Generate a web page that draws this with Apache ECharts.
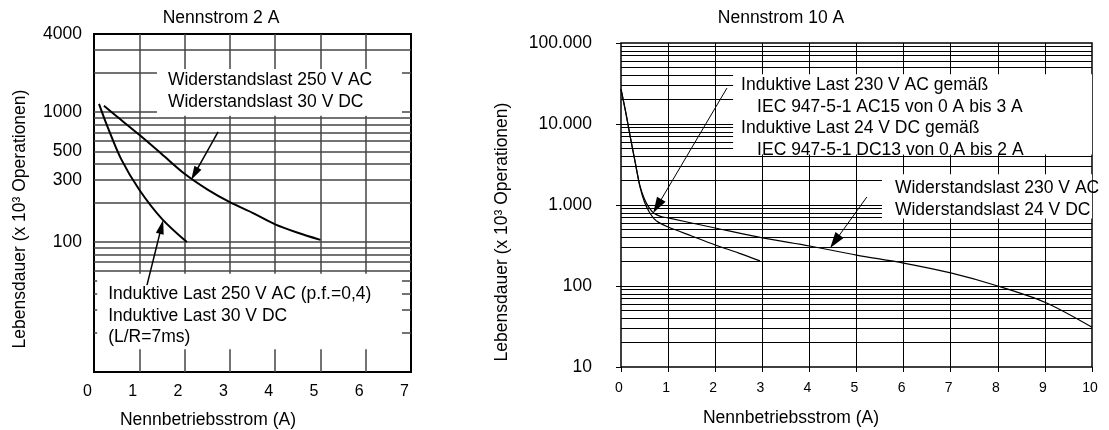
<!DOCTYPE html>
<html>
<head>
<meta charset="utf-8">
<title>Lebensdauer</title>
<script src="https://cdn.jsdelivr.net/npm/echarts@6/dist/echarts.min.js"></script>
<style>
    html, body { margin: 0; padding: 0; background: #fff; }
    #chart { width: 1109px; height: 430px; }
</style>
</head>
<body>
<div id="chart"></div>
<script>
// ---- Nennstrom 2 A (links) ----
var yLabelsLeft = [100, 300, 500, 1000, 4000];
var resistLeftX = [0.22, 0.5, 1, 1.5, 2, 2.5, 3, 3.5, 4, 4.5, 5];
var resistLeftY = [1120, 930, 670, 475, 336, 255, 203, 168, 137, 118, 104];
var inductLeftX = [0.11, 0.3, 0.6, 1, 1.5, 2.05];
var inductLeftY = [1160, 770, 435, 253, 151, 100];
var rasterYLeft = [20, 30, 40, 50, 60, 70, 80, 90, 100, 200, 300, 400, 500, 600, 700, 800, 900, 1000, 2000, 3000];
var rasterXLeft = [1, 2, 3, 4, 5, 6];
// Pfeile: [von x, von y, nach x, nach y]
var arrowsLeft = [[2.74, 705, 2.22, 335], [1.17, 46.7, 1.49, 131]];

// ---- Nennstrom 10 A (rechts) ----
var yLabelsRight = [10, 100, 1000, 10000, 100000];
var inductRightX = [0, 0.1, 0.2, 0.3, 0.4, 0.5, 0.6, 0.7, 0.8, 1, 1.5, 2, 2.5, 2.95];
var inductRightY = [27000, 14000, 6800, 3400, 1700, 1080, 820, 680, 610, 535, 414, 321, 255, 204];
var resistRightX = [0, 0.1, 0.2, 0.3, 0.4, 0.5, 0.6, 0.7, 0.85, 1, 2, 3, 4, 5, 6, 7, 8, 9, 10];
var resistRightY = [27000, 14000, 6800, 3400, 1750, 1180, 920, 790, 720, 692, 520, 392, 312, 241, 192, 145, 100, 63, 31];
var rasterYRight = [20, 30, 40, 50, 60, 70, 80, 90, 100, 200, 300, 400, 500, 600, 700, 800, 900,
    1000, 2000, 3000, 4000, 5000, 6000, 7000, 8000, 9000, 10000, 20000, 30000, 40000, 50000, 60000, 70000, 80000, 90000];
var rasterXRight = [1, 2, 3, 4, 5, 6, 7, 8, 9];
var arrowsRight = [[2.25, 27800, 0.77, 968], [5.22, 1256, 4.54, 354]];

var FONT = '"Liberation Sans", Arial, sans-serif';
var FS = 17.5;

function zip(xs, ys) {
    return xs.map(function (x, i) { return [x, ys[i]]; });
}
function raster(xs, ys) {
    return ys.map(function (v) { return {yAxis: v}; })
        .concat(xs.map(function (v) { return {xAxis: v}; }));
}
function arrows(list, size) {
    return list.map(function (a) {
        return [{coord: [a[0], a[1]], symbol: 'none'}, {coord: [a[2], a[3]], symbol: 'triangle', symbolSize: size}];
    });
}
function box(x1, y1, x2, y2, text, pos, lh, rich) {
    return [{
        xAxis: x1, yAxis: y2,
        label: {
            show: true, position: pos, formatter: text, color: '#000',
            fontSize: FS, fontFamily: FONT, lineHeight: lh, rich: rich || {}
        }
    }, {xAxis: x2, yAxis: y1}];
}
function germanNum(v) {
    return String(v).replace(/\B(?=(\d{3})+(?!\d))/g, '.');
}
function caption(text, x, y, rot) {
    return {
        type: 'text', x: x, y: y, rotation: rot || 0,
        style: {text: text, font: FS + 'px ' + FONT, fill: '#000', align: 'center', verticalAlign: 'middle'}
    };
}

var chart = echarts.init(document.getElementById('chart'));
var option = {
    animation: false,
    backgroundColor: '#fff',
    textStyle: {fontFamily: FONT, color: '#000'},
    grid: [
        {left: 94, top: 34, width: 317, height: 338, show: true, borderColor: '#000', borderWidth: 2},
        {left: 621, top: 43, width: 471, height: 324, show: true, borderColor: '#000', borderWidth: 1.5}
    ],
    xAxis: [
        {
            gridIndex: 0, type: 'value', min: 0, max: 7, interval: 1,
            axisLine: {show: false}, axisTick: {show: false}, splitLine: {show: false},
            axisLabel: {fontSize: 16, color: '#000', margin: 12, padding: [0, 13, 0, 0], fontFamily: FONT}
        },
        {
            gridIndex: 1, type: 'value', min: 0, max: 10, interval: 1,
            axisLine: {show: false}, splitLine: {show: false},
            axisTick: {show: true, inside: false, length: 5, lineStyle: {color: '#000', width: 1}},
            axisLabel: {fontSize: 14, color: '#000', margin: 14, padding: [0, 4, 0, 0], fontFamily: FONT}
        }
    ],
    yAxis: [
        {
            gridIndex: 0, type: 'log', logBase: 10, min: 10, max: 4000,
            axisLine: {show: false}, axisTick: {show: false}, splitLine: {show: false},
            axisLabel: {customValues: yLabelsLeft, fontSize: FS, color: '#000', margin: 12, fontFamily: FONT,
                formatter: function (v) { return String(v); }}
        },
        {
            gridIndex: 1, type: 'log', logBase: 10, min: 10, max: 100000,
            axisLine: {show: false}, splitLine: {show: false},
            axisTick: {show: true, inside: false, length: 5, customValues: yLabelsRight, lineStyle: {color: '#000', width: 1}},
            axisLabel: {customValues: yLabelsRight, fontSize: FS, color: '#000', margin: 29, fontFamily: FONT,
                formatter: germanNum}
        }
    ],
    series: [
        {
            name: 'Widerstandslast 2 A', type: 'line', xAxisIndex: 0, yAxisIndex: 0,
            data: zip(resistLeftX, resistLeftY), smooth: 0.3, showSymbol: false, silent: true, z: 2,
            lineStyle: {color: '#000', width: 2},
            markLine: {
                silent: true, z: 0, symbol: ['none', 'none'], label: {show: false},
                lineStyle: {color: '#444', width: 1.5, type: 'solid'},
                data: raster(rasterXLeft, rasterYLeft)
            },
            markArea: {
                silent: true, z: 1, itemStyle: {color: '#fff', opacity: 1},
                data: [
                    box(1.39, 940, 6.8, 2150, 'Widerstandslast 250 V AC\nWiderstandslast 30 V DC', [11, 0], 22),
                    box(0.07, 15, 6.8, 57, 'Induktive Last 250 V AC (p.f.=0,4)\nInduktive Last 30 V DC\n(L/R=7ms)', [11, 10], 21.5)
                ]
            }
        },
        {
            name: 'Induktive Last 2 A', type: 'line', xAxisIndex: 0, yAxisIndex: 0,
            data: zip(inductLeftX, inductLeftY), smooth: 0.3, showSymbol: false, silent: true, z: 2,
            lineStyle: {color: '#000', width: 2},
            markLine: {
                silent: true, label: {show: false},
                lineStyle: {color: '#000', width: 1.5, type: 'solid'},
                itemStyle: {color: '#000'},
                data: arrows(arrowsLeft, [8, 14])
            }
        },
        {
            name: 'Widerstandslast 10 A', type: 'line', xAxisIndex: 1, yAxisIndex: 1,
            data: zip(resistRightX, resistRightY), smooth: 0.3, showSymbol: false, silent: true, z: 2,
            clip: false,
            lineStyle: {color: '#000', width: 1.2},
            markLine: {
                silent: true, z: 0, symbol: ['none', 'none'], label: {show: false},
                lineStyle: {color: '#000', width: 1, type: 'solid'},
                data: raster(rasterXRight, rasterYRight)
            },
            markArea: {
                silent: true, z: 1, itemStyle: {color: '#fff', opacity: 1},
                data: [
                    box(2.38, 4200, 10.05, 41000,
                        'Induktive Last 230 V AC gemäß\n{i|IEC 947-5-1 AC15 von 0 A bis 3 A}\nInduktive Last 24 V DC gemäß\n{i|IEC 947-5-1 DC13 von 0 A bis 2 A}',
                        [8, 0], 21.7,
                        {i: {fontSize: FS, fontFamily: FONT, color: '#000', padding: [0, 0, 0, 16], lineHeight: 21.7}}),
                    box(5.54, 680, 10.05, 2400, 'Widerstandslast 230 V AC\nWiderstandslast 24 V DC', [13, 3], 22)
                ]
            }
        },
        {
            name: 'Induktive Last 10 A', type: 'line', xAxisIndex: 1, yAxisIndex: 1,
            data: zip(inductRightX, inductRightY), smooth: 0.3, showSymbol: false, silent: true, z: 2,
            lineStyle: {color: '#000', width: 1.2},
            markLine: {
                silent: true, label: {show: false},
                lineStyle: {color: '#000', width: 1, type: 'solid'},
                itemStyle: {color: '#000'},
                data: arrows(arrowsRight, [10, 16])
            }
        }
    ],
    graphic: [
        caption('Nennstrom 2 A', 221, 18),
        caption('Nennstrom 10 A', 781, 18),
        caption('Nennbetriebsstrom (A)', 208, 420),
        caption('Nennbetriebsstrom (A)', 791, 418),
        caption('Lebensdauer (x 10³ Operationen)', 20, 219, Math.PI / 2),
        caption('Lebensdauer (x 10³ Operationen)', 502, 232, Math.PI / 2)
    ]
};
chart.setOption(option);
window.addEventListener('resize', function () {
    chart.resize();
});
</script>
</body>
</html>
